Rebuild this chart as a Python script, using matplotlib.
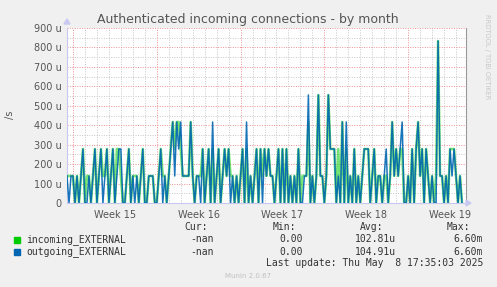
import matplotlib
matplotlib.use("Agg")
import matplotlib.pyplot as plt
import numpy as np

# ---------------- data ----------------
title = "Authenticated incoming connections - by month"
y_ticks = [0, 100, 200, 300, 400, 500, 600, 700, 800, 900]
y_tick_labels = ["0", "100 u", "200 u", "300 u", "400 u", "500 u", "600 u", "700 u", "800 u", "900 u"]
week_labels = ["Week 15", "Week 16", "Week 17", "Week 18", "Week 19"]
week_starts_h = [12, 180, 348, 516, 684]      # hours from left edge
week_centers_h = [96, 264, 432, 600, 768]
sample_step_h = 4
U = 138.9  # one connection per 2h bin, in micro-units (/s)

# levels (in units of U) per 4-hour sample
outgoing_levels = [
    1,0,1,1,0,1,0,1,2,0, 0,1,0,1,2,0,1,2,0,1, 2,0,1,2,0,1,2,2,0,0,
    1,2,0,1,0,1,0,1,2,0, 0,1,1,1,0,0,1,2,0,1, 0,1,2,3,1,3,2,3,1,1,
    1,1,3,1,0,1,1,0,2,0, 1,2,0,3,0,1,2,0,1,2, 1,2,0,1,0,1,0,1,2,0,
    3,0,1,0,1,2,0,2,0,2, 1,2,1,1,0,1,2,0,2,0, 2,0,1,0,1,0,2,0,0,1,
    1,4,0,1,0,1,4,1,1,0, 1,4,2,2,2,0,1,0,3,0, 3,0,1,0,2,0,1,0,1,2,
    2,2,0,1,2,0,1,1,0,1, 2,0,1,3,1,2,1,2,3,0, 0,1,0,2,0,2,3,1,2,0,
    2,1,0,1,0,0,6,1,1,0, 1,0,2,1,2,1,0,1,0,
]
incoming_levels = [
    1,1,1,1,0,1,0,1,2,0, 1,1,0,1,2,0,1,2,1,1, 2,0,1,2,0,2,2,1,0,0,
    1,2,0,1,1,1,0,1,2,0, 0,1,1,1,0,0,1,2,1,1, 0,1,2,3,2,3,3,2,1,1,
    1,1,3,1,0,1,1,1,2,0, 1,2,0,2,0,1,2,0,1,2, 1,2,1,1,0,1,0,1,2,0,
    2,0,1,0,1,2,0,2,1,2, 1,2,1,1,0,1,2,0,2,0, 2,0,1,0,1,0,2,0,1,1,
    1,3,0,1,0,1,4,1,1,0, 1,4,2,2,2,0,2,0,3,0, 2,0,1,0,2,0,1,0,1,2,
    2,2,0,1,2,0,1,1,0,1, 1,0,1,3,1,2,1,2,2,0, 0,1,0,2,0,2,3,1,2,0,
    2,1,0,1,0,1,6,1,1,0, 1,0,2,2,2,1,0,1,0,
]
legend_rows = [
    ("incoming_EXTERNAL", "-nan", "0.00", "102.81u", "6.60m", "#00CC00"),
    ("outgoing_EXTERNAL", "-nan", "0.00", "104.91u", "6.60m", "#0066B3"),
]
last_update = "Last update: Thu May  8 17:35:03 2025"

# ---------------- figure ----------------
W, H = 497, 287
fig = plt.figure(figsize=(W / 100, H / 100), dpi=100, facecolor="#F0F0F0")

def fx(x):
    return x / W

def fy(y):
    return 1 - y / H

ax = fig.add_axes([fx(67), fy(203), 399 / W, 175 / H])
ax.set_facecolor("white")
ax.set_xlim(0, 800)
ax.set_ylim(0, 900)

# grid
for h in range(12, 800, 24):
    if h not in week_starts_h:
        ax.axvline(h, color="#C8C8C8", lw=0.7, ls=(0, (1, 1.5)), zorder=1)
for yv in range(50, 900, 100):
    ax.axhline(yv, color="#C8C8C8", lw=0.7, ls=(0, (1, 1.5)), zorder=1)
for h in week_starts_h:
    ax.axvline(h, color="#F09090", lw=0.7, ls=(0, (1, 1.5)), zorder=1)
for yv in y_ticks[1:]:
    ax.axhline(yv, color="#F09090", lw=0.7, ls=(0, (1, 1.5)), zorder=1)

t_in = np.arange(len(incoming_levels)) * sample_step_h
t_out = np.arange(len(outgoing_levels)) * sample_step_h
ax.plot(t_in, np.array(incoming_levels) * U, color="#00CC00", lw=1.8, zorder=3, alpha=0.55)
ax.plot(t_out, np.array(outgoing_levels) * U, color="#0066B3", lw=1.1, zorder=4, alpha=0.9)

# axes styling
ax.set_yticks(y_ticks)
ax.set_yticklabels(y_tick_labels)
ax.set_xticks(week_centers_h)
ax.set_xticklabels(week_labels)
ax.tick_params(axis="both", length=0, labelsize=7, colors="#555555", pad=4)
ax.tick_params(axis="x", pad=5)
ax.spines["top"].set_visible(False)
ax.spines["left"].set_color("#C8C8F0")
ax.spines["bottom"].set_color("#C8C8F0")
ax.spines["right"].set_color("#999999")
for s in ax.spines.values():
    s.set_linewidth(0.8)

# axis arrows
fig.patches.append(plt.Polygon([[fx(64), fy(24)], [fx(70), fy(24)], [fx(67), fy(19)]],
                               closed=True, transform=fig.transFigure, color="#C8C8F0"))
fig.patches.append(plt.Polygon([[fx(466), fy(200)], [fx(466), fy(206)], [fx(471), fy(203)]],
                               closed=True, transform=fig.transFigure, color="#C8C8F0"))

# texts
fig.text(fx(248), fy(19), title, ha="center", va="center", fontsize=9, color="#555555")
fig.text(fx(10), fy(115), "/s", ha="center", va="center", rotation=90, fontsize=7, color="#555555")
fig.text(fx(487), fy(57), "RRDTOOL / TOBI OETIKER", ha="center", va="center", rotation=270,
         fontsize=4.8, color="#C8C8C8")

mono = "DejaVu Sans Mono"
fs = 7
txtc = "#333333"
fig.text(fx(208), fy(227), "Cur:", ha="right", va="center", family=mono, fontsize=fs, color=txtc)
fig.text(fx(296), fy(227), "Min:", ha="right", va="center", family=mono, fontsize=fs, color=txtc)
fig.text(fx(383), fy(227), "Avg:", ha="right", va="center", family=mono, fontsize=fs, color=txtc)
fig.text(fx(470), fy(227), "Max:", ha="right", va="center", family=mono, fontsize=fs, color=txtc)
for i, (name, cur, mn, avg, mx, col) in enumerate(legend_rows):
    y = 239.5 + i * 12.3
    fig.patches.append(plt.Rectangle((fx(14), fy(y + 3)), 6 / W, 6 / H, transform=fig.transFigure,
                                     color=col))
    fig.text(fx(26), fy(y), name, ha="left", va="center", family=mono, fontsize=fs, color=txtc)
    fig.text(fx(214), fy(y), cur, ha="right", va="center", family=mono, fontsize=fs, color=txtc)
    fig.text(fx(303), fy(y), mn, ha="right", va="center", family=mono, fontsize=fs, color=txtc)
    fig.text(fx(396), fy(y), avg, ha="right", va="center", family=mono, fontsize=fs, color=txtc)
    fig.text(fx(483), fy(y), mx, ha="right", va="center", family=mono, fontsize=fs, color=txtc)
fig.text(fx(483), fy(263.5), last_update, ha="right", va="center", family=mono, fontsize=fs, color=txtc)
fig.text(fx(248), fy(276), "Munin 2.0.67", ha="center", va="center", fontsize=5, color="#C0C0C0")

fig.savefig("out.png", dpi=100, facecolor=fig.get_facecolor())
